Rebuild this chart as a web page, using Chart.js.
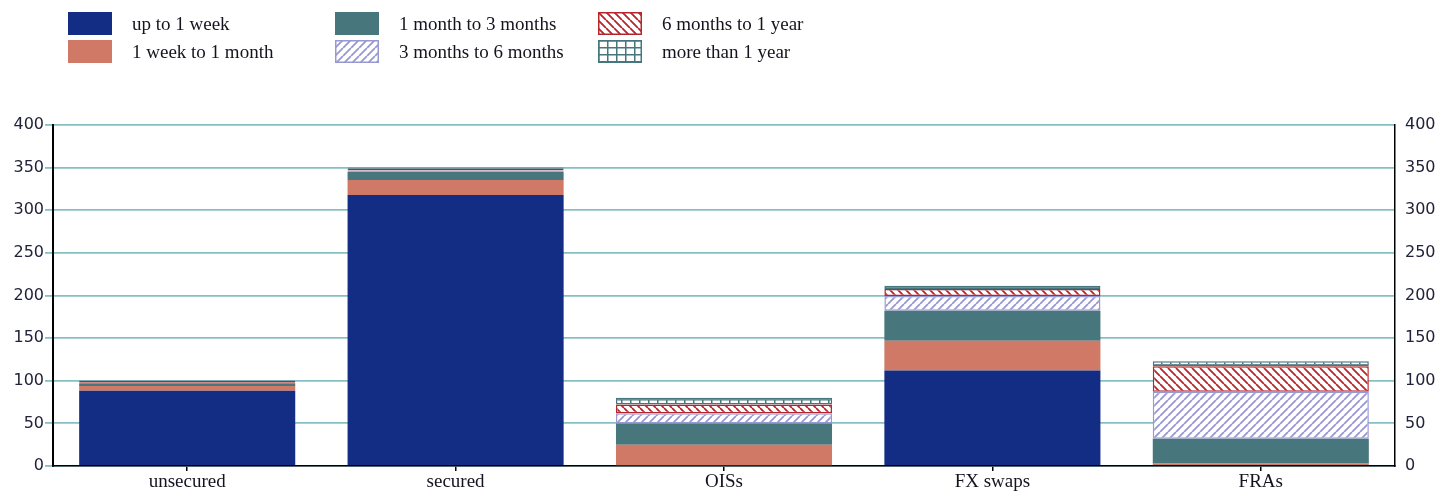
<!DOCTYPE html>
<html>
<head>
<meta charset="utf-8">
<script src="https://cdn.jsdelivr.net/npm/chart.js@4"></script>
<style>
  html, body { margin: 0; padding: 0; background: #fff; }
  #wrap { position: relative; width: 1439px; height: 496px; }
  #legend { position: absolute; left: 0; top: 0; font-family: "Liberation Serif", serif; font-size: 19px; color: #14141f; }
  .item { position: absolute; height: 23px; white-space: nowrap; }
  .item canvas { position: absolute; left: 0; top: 0; }
  .item span { position: absolute; left: 64px; top: 0; line-height: 23px; }
</style>
</head>
<body>
<div id="wrap">
  <canvas id="chart" width="1439" height="496"></canvas>
  <div id="legend"></div>
</div>
<script>
const categories = ["unsecured", "secured", "OISs", "FX swaps", "FRAs"];
const seriesLabels = ["up to 1 week", "1 week to 1 month", "1 month to 3 months",
                      "3 months to 6 months", "6 months to 1 year", "more than 1 year"];
const upTo1Week    = [88.3, 318, 1, 112, 0];
const week1Month   = [5.5, 17.5, 24, 35, 3];
const month1to3    = [3.2, 9.7, 25, 35, 29];
const month3to6    = [0.8, 1.5, 12, 17.5, 55];
const month6to1y   = [2, 2, 10, 8, 30];
const over1Year    = [0.5, 1.5, 8, 4, 6];
const yTicks = [0, 50, 100, 150, 200, 250, 300, 350, 400];

const BLUE = "#122d83", SALMON = "#cf7966", TEAL = "#47777c",
      RED = "#b5272d", LAV = "#9898d2";

// hatch patterns
function hatch(ctx, color, dir) {
  const s = 8;
  const c = document.createElement("canvas");
  c.width = c.height = s;
  const g = c.getContext("2d");
  g.fillStyle = "#fff";
  g.fillRect(0, 0, s, s);
  g.strokeStyle = color;
  g.lineWidth = 1.8;
  g.beginPath();
  for (let k = -1; k <= 1; k++) {
    if (dir === "/") { g.moveTo(k * s, s); g.lineTo(k * s + s, 0); }
    else { g.moveTo(k * s, 0); g.lineTo(k * s + s, s); }
  }
  g.stroke();
  return ctx.createPattern(c, "repeat");
}

function gridPat(ctx, color) {
  const c = document.createElement("canvas");
  c.width = 9; c.height = 7;
  const g = c.getContext("2d");
  g.fillStyle = "#fff";
  g.fillRect(0, 0, 9, 7);
  g.fillStyle = color;
  g.fillRect(0, 0, 9, 1.5);
  g.fillRect(0, 0, 1.5, 7);
  return ctx.createPattern(c, "repeat");
}

const ctx = document.getElementById("chart").getContext("2d");

const fills = [BLUE, SALMON, TEAL, hatch(ctx, LAV, "/"), hatch(ctx, RED, "\\"), gridPat(ctx, TEAL)];
const borders = [BLUE, SALMON, TEAL, LAV, RED, TEAL];
const values = [upTo1Week, week1Month, month1to3, month3to6, month6to1y, over1Year];

const datasets = values.map((v, i) => ({
  label: seriesLabels[i],
  data: v,
  backgroundColor: fills[i],
  borderColor: borders[i],
  borderWidth: i >= 3 ? 1.5 : 0,
  borderSkipped: false,
  barPercentage: 0.805,
  categoryPercentage: 1
}));

const tickFont = { family: "DejaVu Sans", size: 16 };

new Chart(ctx, {
  type: "bar",
  data: { labels: categories, datasets: datasets },
  options: {
    responsive: false,
    animation: false,
    devicePixelRatio: 1,
    layout: { padding: { top: 125, left: 0, right: 0, bottom: 0 } },
    plugins: { legend: { display: false }, tooltip: { enabled: false } },
    scales: {
      x: {
        stacked: true,
        grid: { offset: false, drawOnChartArea: false, drawTicks: true, tickLength: 5, color: "#000", lineWidth: 1.5 },
        border: { display: true, color: "#000", width: 1.5 },
        ticks: { font: { family: "Liberation Serif", size: 19 }, color: "#14141f", padding: 0, maxRotation: 0 },
        afterFit: s => { s.height = 30; }
      },
      y: {
        stacked: true,
        position: "left",
        min: 0, max: 400,
        afterBuildTicks: s => { s.ticks = yTicks.map(v => ({ value: v })); },
        grid: { color: "#86bfc4", lineWidth: 1.8, drawTicks: true, tickLength: 8 },
        border: { display: true, color: "#000", width: 2 },
        ticks: { font: tickFont, color: "#22223a", padding: 1 },
        afterFit: s => { s.width = 53; }
      },
      y2: {
        position: "right",
        min: 0, max: 400,
        afterBuildTicks: s => { s.ticks = yTicks.map(v => ({ value: v })); },
        grid: { drawOnChartArea: false, drawTicks: false },
        border: { display: true, color: "#000", width: 1.5 },
        ticks: { font: tickFont, color: "#22223a", padding: 10 },
        afterFit: s => { s.width = 44; }
      }
    }
  }
});

// legend, laid out by column like the original
const legendCols = [68, 335, 598];
const legendRows = [12, 40];
const legend = document.getElementById("legend");
seriesLabels.forEach((lab, i) => {
  const col = Math.floor(i / 2), row = i % 2;
  const item = document.createElement("div");
  item.className = "item";
  item.style.left = legendCols[col] + "px";
  item.style.top = legendRows[row] + "px";
  const sw = document.createElement("canvas");
  sw.width = 44; sw.height = 23;
  const g = sw.getContext("2d");
  const f = i < 3 ? fills[i] : (i === 3 ? hatch(g, LAV, "/") : i === 4 ? hatch(g, RED, "\\") : gridPat(g, TEAL));
  g.fillStyle = f;
  g.fillRect(0, 0, 44, 23);
  if (i >= 3) {
    g.strokeStyle = borders[i];
    g.lineWidth = 1.5;
    g.strokeRect(0.75, 0.75, 42.5, 21.5);
  }
  const t = document.createElement("span");
  t.textContent = lab;
  item.appendChild(sw);
  item.appendChild(t);
  legend.appendChild(item);
});
</script>
</body>
</html>
